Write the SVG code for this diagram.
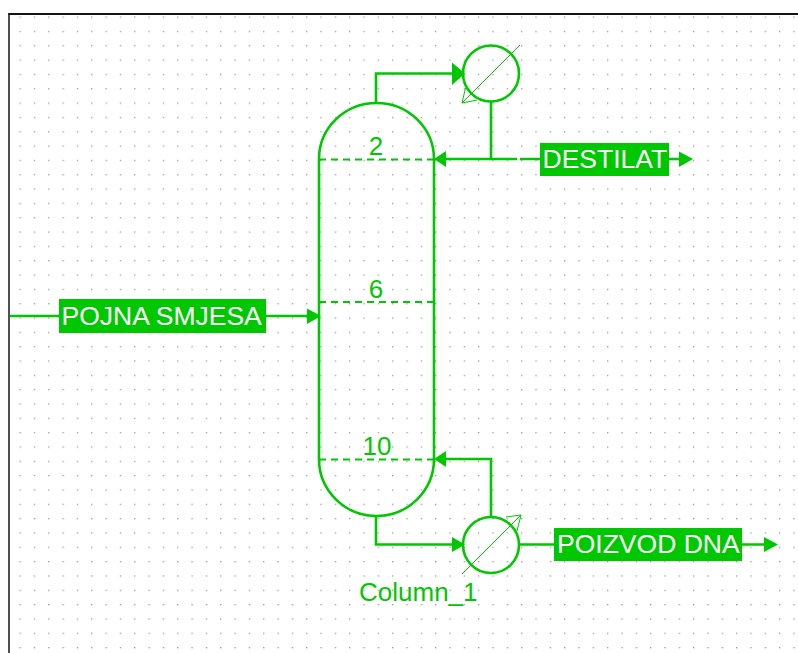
<svg xmlns="http://www.w3.org/2000/svg" width="798" height="653" viewBox="0 0 798 653">
<style>
.ln{fill:none;stroke:#00c800;stroke-width:2.6}
.thin{fill:none;stroke:#00c800;stroke-width:1}
.dash{fill:none;stroke:#00c800;stroke-width:2;stroke-dasharray:7 5}
.ah{fill:#00c800}
.lb{fill:#00c800}
.w{font:26.500px "Liberation Sans",Arial,sans-serif;fill:#fff}
.g{font:26px "Liberation Sans",Arial,sans-serif;fill:#00c800}
</style>
<defs>
<pattern id="dots" x="19.500" y="16.500" width="14.33" height="14.33" patternUnits="userSpaceOnUse"><rect width="1.300" height="1.300" fill="#9a9a9a"/></pattern>
</defs>
<rect width="798" height="653" fill="#fff"/>
<rect x="10" y="14" width="788" height="639" fill="url(#dots)"/>
<path d="M9 653V14H798" fill="none" stroke="#505050" stroke-width="2"/>
<path d="M8.500 14H798" stroke="#000" stroke-width="1.500"/>
<g id="connectors">
<path class="ln" d="M376 103V73.500H455"/>
<path class="ah" d="M452 62.500V85L465 73.500Z"/>
<path class="ln" d="M491 102V159"/>
<path class="ln" d="M443 159H517M520 159H541"/>
<path class="ah" d="M434 159L446 151V167Z"/>
<path class="ln" d="M668 159H682"/>
<path class="ah" d="M679 151.500V167L693 159Z"/>
<path class="ln" d="M10 316H59M266 316H310"/>
<path class="ah" d="M307 308.500V324L321 316Z"/>
<path class="ln" d="M491 516V459H443"/>
<path class="ah" d="M434 459L446 451V467Z"/>
<path class="ln" d="M376 516V544.500H455"/>
<path class="ah" d="M452 537V552L465 544.500Z"/>
<path class="ln" d="M520 544.500H555M742 544.500H766"/>
<path class="ah" d="M764 537V552L778 544.500Z"/>
</g>
<g id="column">
<path class="ln" d="M319 159A57.500 56 0 0 1 434 159V459A57.500 57 0 0 1 319 459Z"/>
<path class="dash" d="M319 159.500H434M319 302H434M319 459.500H434"/>
<text class="g" x="376" y="155" text-anchor="middle">2</text>
<text class="g" x="376" y="298" text-anchor="middle">6</text>
<text class="g" x="377" y="455" text-anchor="middle">10</text>
<text id="column-label" class="g" x="359" y="601">Column_1</text>
</g>
<g id="condenser">
<circle class="ln" cx="491" cy="73.500" r="28"/>
<path class="thin" d="M520 45L462 103"/>
<path class="thin" d="M465.500 88L462 103L477 100"/>
</g>
<g id="reboiler">
<circle class="ln" cx="491" cy="545" r="28"/>
<path class="thin" d="M462 574L521 515"/>
<path class="thin" d="M506 517L521 515L517 531"/>
</g>
<g id="stream-feed">
<rect class="lb" x="59" y="299" width="207" height="34"/>
<text class="w" x="61.500" y="325">POJNA SMJESA</text>
</g>
<g id="stream-distillate">
<rect class="lb" x="540" y="143" width="129" height="33"/>
<text class="w" x="542.500" y="168">DESTILAT</text>
</g>
<g id="stream-bottoms">
<rect class="lb" x="554" y="528" width="188" height="33"/>
<text class="w" x="557" y="553">POIZVOD DNA</text>
</g>
</svg>
